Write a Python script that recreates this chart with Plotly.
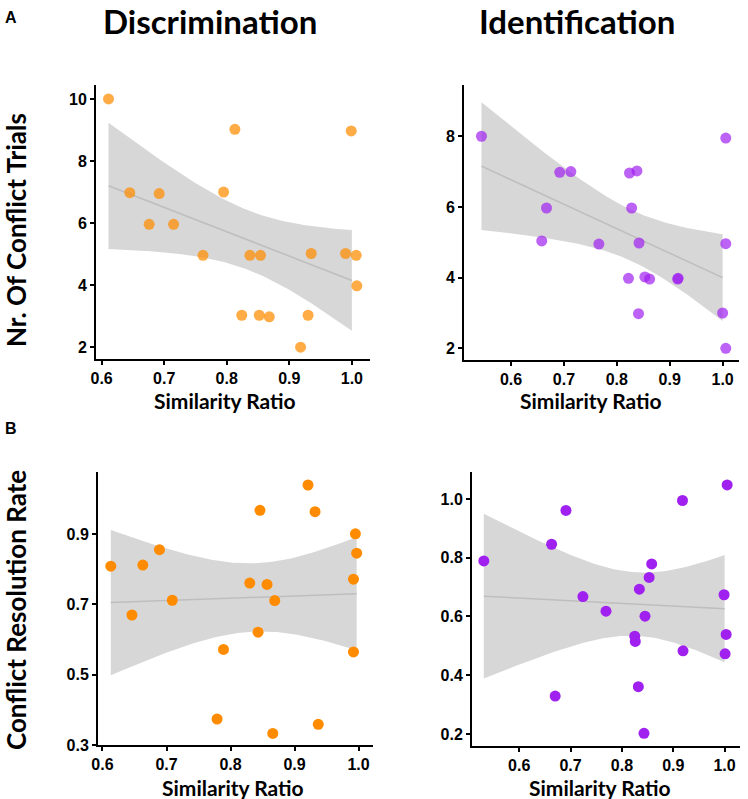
import numpy as np
import plotly.graph_objects as go

W, H = 748, 799

# ---------------- data ----------------
disc_sim_trials = [0.611, 0.813, 0.999, 0.645, 0.692, 0.795, 0.676, 0.715, 0.762, 0.837,
                   0.854, 0.935, 0.990, 1.007, 1.008, 0.824, 0.852, 0.868, 0.930, 0.918]
disc_trials = [10.0, 9.02, 8.97, 6.98, 6.95, 7.0, 5.96, 5.96, 4.96, 4.96,
               4.96, 5.02, 5.02, 4.96, 3.98, 3.03, 3.03, 2.98, 3.03, 2.0]

ident_sim_trials = [0.544, 1.006, 0.692, 0.713, 0.824, 0.838, 0.667, 0.828, 0.658, 0.766,
                    0.842, 1.006, 0.822, 0.853, 0.862, 0.915, 0.916, 0.841, 1.0, 1.006]
ident_trials = [8.0, 7.95, 6.98, 7.0, 6.96, 7.02, 5.97, 5.97, 5.04, 4.95,
                4.98, 4.96, 3.98, 4.02, 3.96, 3.96, 3.98, 2.98, 3.0, 2.0]

disc_sim_rate = [0.613, 0.646, 0.663, 0.689, 0.709, 0.830, 0.857, 0.869, 0.843, 0.846,
                 0.921, 0.932, 0.995, 0.997, 0.992, 0.992, 0.789, 0.779, 0.866, 0.937]
disc_rate = [0.809, 0.670, 0.812, 0.856, 0.712, 0.761, 0.757, 0.711, 0.621, 0.968,
             1.040, 0.964, 0.901, 0.846, 0.772, 0.565, 0.572, 0.374, 0.333, 0.359]

ident_sim_rate = [0.531, 0.663, 0.691, 0.670, 0.724, 0.769, 0.834, 0.858, 0.853, 0.845,
                  0.825, 0.826, 0.832, 0.843, 0.918, 0.919, 1.005, 0.999, 1.003, 1.001]
ident_rate = [0.789, 0.846, 0.961, 0.329, 0.668, 0.618, 0.693, 0.779, 0.733, 0.601,
              0.533, 0.515, 0.361, 0.202, 0.995, 0.483, 1.048, 0.674, 0.539, 0.473]

x_ticks = [0.6, 0.7, 0.8, 0.9, 1.0]
x_ticklabels = ["0.6", "0.7", "0.8", "0.9", "1.0"]
disc_trials_ticks = [2, 4, 6, 8, 10]
ident_trials_ticks = [2, 4, 6, 8]
disc_rate_ticks = [0.3, 0.5, 0.7, 0.9]
disc_rate_ticklabels = ["0.3", "0.5", "0.7", "0.9"]
ident_rate_ticks = [0.2, 0.4, 0.6, 0.8, 1.0]
ident_rate_ticklabels = ["0.2", "0.4", "0.6", "0.8", "1.0"]

col_titles = ["Discrimination", "Identification"]
row_titles = ["Nr. Of Conflict Trials", "Conflict Resolution Rate"]
x_title = "Similarity Ratio"
panel_letters = ["A", "B"]

ORANGE_LIGHT = "rgba(255,140,0,0.72)"
PURPLE_LIGHT = "rgba(160,32,240,0.70)"
ORANGE = "rgb(255,140,0)"
PURPLE = "rgb(160,32,240)"

T_CRIT = 2.101  # t(0.975, df=18)


def fit_band(x, y):
    x = np.clip(np.asarray(x, float), None, 1.0)
    y = np.asarray(y, float)
    n = len(x)
    b, a = np.polyfit(x, y, 1)
    resid = y - (a + b * x)
    s = np.sqrt(np.sum(resid ** 2) / (n - 2))
    xm = x.mean()
    sxx = np.sum((x - xm) ** 2)
    xs = np.linspace(x.min(), x.max(), 100)
    yh = a + b * xs
    se = s * np.sqrt(1.0 / n + (xs - xm) ** 2 / sxx)
    return xs, yh, yh - T_CRIT * se, yh + T_CRIT * se


def dx(a, b):
    return [a / W, b / W]


def dy(top, bottom):
    return [1 - bottom / H, 1 - top / H]


fig = go.Figure()

panels = [
    (disc_sim_trials, disc_trials, ORANGE_LIGHT, "", (96, 370), (85, 359),
     [0.591, 1.029], [1.62, 10.45], disc_trials_ticks, [str(v) for v in disc_trials_ticks]),
    (ident_sim_trials, ident_trials, PURPLE_LIGHT, "2", (464, 739), (85, 360),
     [0.511, 1.031], [1.67, 9.45], ident_trials_ticks, [str(v) for v in ident_trials_ticks]),
    (disc_sim_rate, disc_rate, ORANGE, "3", (98, 373), (472, 745),
     [0.593, 1.0225], [0.3, 1.077], disc_rate_ticks, disc_rate_ticklabels),
    (ident_sim_rate, ident_rate, PURPLE, "4", (472, 740), (472, 746),
     [0.508, 1.03], [0.159, 1.092], ident_rate_ticks, ident_rate_ticklabels),
]

tickfont = dict(family="Liberation Sans, Arial, sans-serif", size=16, color="black", weight="bold")

for (xv, yv, col, sfx, xd, yd, xr, yr, yt, ytl) in panels:
    xa = "x" + sfx
    ya = "y" + sfx
    xs, yh, lo, hi = fit_band(xv, yv)
    fig.add_trace(go.Scatter(
        x=np.concatenate([xs, xs[::-1]]), y=np.concatenate([hi, lo[::-1]]),
        fill="toself", fillcolor="rgb(215,215,215)", line=dict(width=0),
        mode="lines", hoverinfo="skip", showlegend=False, xaxis=xa, yaxis=ya))
    fig.add_trace(go.Scatter(
        x=xs, y=yh, mode="lines", line=dict(color="rgb(190,190,190)", width=1.5),
        showlegend=False, xaxis=xa, yaxis=ya))
    fig.add_trace(go.Scatter(
        x=xv, y=yv, mode="markers",
        marker=dict(color=col, size=11, line=dict(width=0)),
        showlegend=False, xaxis=xa, yaxis=ya))
    axis_common = dict(showline=True, linecolor="black", linewidth=2, ticks="outside",
                       ticklen=4, tickwidth=1.5, tickcolor="black", showgrid=False,
                       zeroline=False, tickfont=tickfont, automargin=False)
    fig.layout["xaxis" + sfx] = dict(domain=dx(*xd), range=xr, anchor=ya,
                                     tickvals=x_ticks, ticktext=x_ticklabels, **axis_common)
    fig.layout["yaxis" + sfx] = dict(domain=dy(*yd), range=yr, anchor=xa,
                                     tickvals=yt, ticktext=ytl, **axis_common)

title_font = dict(family="Lato, sans-serif", color="black", weight="bold")
annotations = []
for cx, txt in zip([210, 577], col_titles):
    annotations.append(dict(x=cx / W, y=1 - 21 / H, xref="paper", yref="paper", text=txt,
                            showarrow=False, xanchor="center", yanchor="middle",
                            font=dict(size=33, **title_font)))
for cy, txt in zip([230, 610], row_titles):
    annotations.append(dict(x=16 / W, y=1 - cy / H, xref="paper", yref="paper", text=txt,
                            showarrow=False, xanchor="center", yanchor="middle", textangle=-90,
                            borderpad=0,
                            font=dict(size=26, **title_font)))
for cx, cy in [(225, 401), (233, 787), (591, 401), (600, 787)]:
    annotations.append(dict(x=cx / W, y=1 - cy / H, xref="paper", yref="paper", text=x_title,
                            showarrow=False, xanchor="center", yanchor="middle",
                            font=dict(size=21, **title_font)))
for cy, txt in zip([17, 428], panel_letters):
    annotations.append(dict(x=11 / W, y=1 - cy / H, xref="paper", yref="paper", text=txt,
                            showarrow=False, xanchor="center", yanchor="middle",
                            font=dict(family="Liberation Sans, Arial, sans-serif", size=16,
                                      color="black", weight="bold")))

fig.update_layout(width=W, height=H, margin=dict(l=0, r=0, t=0, b=0),
                  paper_bgcolor="white", plot_bgcolor="white",
                  annotations=annotations, showlegend=False)

fig.write_html("out.html")
